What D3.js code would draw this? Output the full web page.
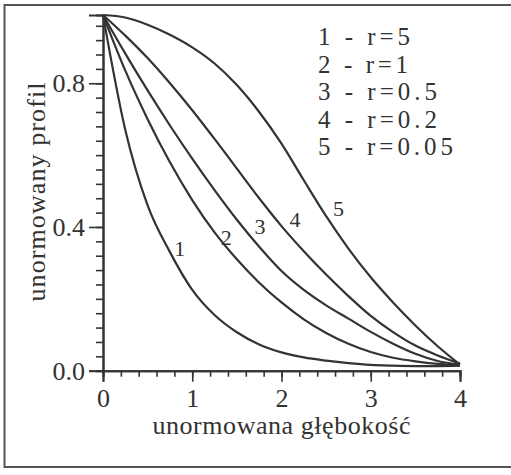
<!DOCTYPE html>
<html>
<head>
<meta charset="utf-8">
<script src="https://cdn.jsdelivr.net/npm/d3@7/dist/d3.min.js"></script>
<style>
  html, body { margin: 0; padding: 0; background: #fff; }
  svg { display: block; }
  text { font-family: "Liberation Serif", "Times New Roman", serif; fill: #333; }
</style>
</head>
<body>
<svg id="chart" width="511" height="475"></svg>
<script>
// Normalized depth samples shared by every profile
const depth = [0, 0.25, 0.5, 0.75, 1, 1.25, 1.5, 1.75, 2, 2.25, 2.5, 2.75, 3, 3.25, 3.5, 3.75, 4];

// Normalized profile for each value of r
const profileR5    = [0.99, 0.67, 0.46, 0.33, 0.225, 0.155, 0.107, 0.073, 0.051, 0.037, 0.028, 0.021, 0.016, 0.014, 0.013, 0.013, 0.014];
const profileR1    = [0.99, 0.835, 0.70, 0.58, 0.475, 0.385, 0.31, 0.245, 0.19, 0.143, 0.105, 0.075, 0.052, 0.036, 0.026, 0.019, 0.015];
const profileR05   = [0.99, 0.8825, 0.78, 0.6825, 0.59, 0.5025, 0.42, 0.345, 0.2775, 0.225, 0.182, 0.145, 0.108, 0.075, 0.047, 0.027, 0.017];
const profileR02   = [0.99, 0.9325, 0.87, 0.80, 0.725, 0.645, 0.5625, 0.48, 0.4025, 0.3325, 0.2675, 0.2075, 0.1525, 0.1075, 0.07, 0.0425, 0.02];
const profileR005  = [0.99, 0.983, 0.963, 0.935, 0.90, 0.855, 0.795, 0.72, 0.632, 0.53, 0.43, 0.34, 0.26, 0.19, 0.126, 0.068, 0.017];

const seriesIds    = ["1", "2", "3", "4", "5"];
const legendLabels = ["1 - r=5", "2 - r=1", "3 - r=0.5", "4 - r=0.2", "5 - r=0.05"];

// Where each curve number is written (data units: depth, profile)
const curveLabelX = [0.86, 1.38, 1.76, 2.15, 2.64];
const curveLabelY = [0.32, 0.35, 0.38, 0.40, 0.43];

// Axis ticks
const xMajorTicks = [0, 1, 2, 3, 4];
const xMinorTicks = d3.range(0, 4.0001, 0.2);
const yMajorTicks = [0, 0.4, 0.8];
const yMinorTicks = d3.range(0, 0.97, 0.04);

const xTitle = "unormowana głębokość";
const yTitle = "unormowany profil";

const profiles = [profileR5, profileR1, profileR05, profileR02, profileR005];

const svg = d3.select("#chart");
const ink = "#333";

// Outer frame
svg.append("path")
  .attr("d", "M520,5 H4.5 V467 H520")
  .attr("fill", "none")
  .attr("stroke", "#555")
  .attr("stroke-width", 2);

const x = d3.scaleLinear().domain([0, 4]).range([103, 460]);
const y = d3.scaleLinear().domain([0, 0.99]).range([370.7, 15]);

function styleAxis(g) {
  g.selectAll("path.domain").attr("stroke", ink).attr("stroke-width", 2);
  g.selectAll(".tick line").attr("stroke", ink).attr("stroke-width", 1.6);
}

// x axis: minor then major ticks
svg.append("g")
  .attr("transform", `translate(0,${y(0)})`)
  .call(d3.axisBottom(x).tickValues(xMinorTicks).tickSize(6).tickFormat(""))
  .call(styleAxis);
svg.append("g")
  .attr("transform", `translate(0,${y(0)})`)
  .call(d3.axisBottom(x).tickValues(xMajorTicks).tickSize(11).tickPadding(7).tickFormat(d3.format("d")))
  .call(styleAxis)
  .call(g => g.selectAll("text").attr("font-size", 26).attr("fill", ink));

// y axis: minor then major ticks
svg.append("g")
  .attr("transform", `translate(${x(0)},0)`)
  .call(d3.axisLeft(y).tickValues(yMinorTicks).tickSize(7).tickFormat(""))
  .call(styleAxis);
svg.append("g")
  .attr("transform", `translate(${x(0)},0)`)
  .call(d3.axisLeft(y).tickValues(yMajorTicks).tickSize(14).tickPadding(4).tickFormat(d3.format(".1f")))
  .call(styleAxis)
  .call(g => g.selectAll("text").attr("font-size", 26).attr("fill", ink));

// Profile curves
const line = d3.line()
  .x((d, i) => x(depth[i]))
  .y(d => y(d))
  .curve(d3.curveMonotoneX);

svg.append("g")
  .selectAll("path")
  .data(profiles)
  .join("path")
  .attr("d", line)
  .attr("fill", "none")
  .attr("stroke", ink)
  .attr("stroke-width", 2.2);

// Curve numbers
svg.append("g")
  .selectAll("text")
  .data(seriesIds)
  .join("text")
  .attr("x", (d, i) => x(curveLabelX[i]))
  .attr("y", (d, i) => y(curveLabelY[i]))
  .attr("text-anchor", "middle")
  .attr("font-size", 22)
  .text(d => d);

// Legend
const legendWidths = [92, 90, 119, 119, 135];
svg.append("g")
  .selectAll("text")
  .data(legendLabels)
  .join("text")
  .attr("x", 318)
  .attr("y", (d, i) => 45 + i * 27.5)
  .attr("font-size", 25)
  .attr("textLength", (d, i) => legendWidths[i])
  .attr("lengthAdjust", "spacing")
  .text(d => d);

// Axis titles
svg.append("text")
  .attr("x", (x(0) + x(4)) / 2)
  .attr("y", 434)
  .attr("text-anchor", "middle")
  .attr("font-size", 26)
  .attr("textLength", 258)
  .attr("lengthAdjust", "spacing")
  .text(xTitle);

svg.append("text")
  .attr("transform", "translate(45,192) rotate(-90)")
  .attr("text-anchor", "middle")
  .attr("font-size", 26)
  .attr("textLength", 219)
  .attr("lengthAdjust", "spacing")
  .text(yTitle);
</script>
</body>
</html>
